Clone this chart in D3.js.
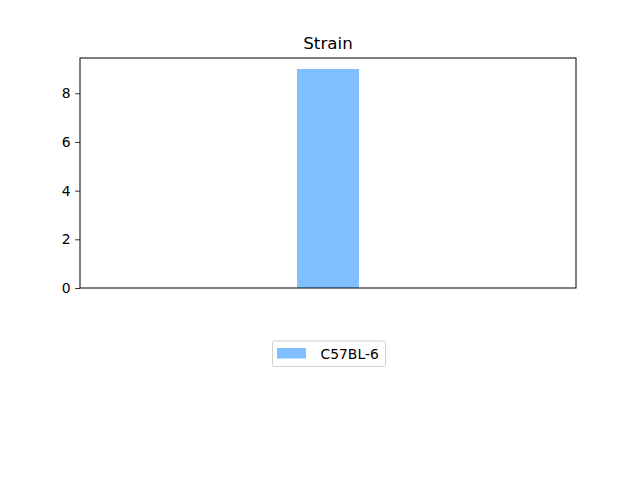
<!DOCTYPE html>
<html>
<head>
<meta charset="utf-8">
<script src="https://cdn.jsdelivr.net/npm/d3@7"></script>
<style>
  body { margin: 0; background: #fff; }
  text { font-family: "DejaVu Sans", sans-serif; }
</style>
</head>
<body>
<svg id="chart" width="640" height="480"></svg>
<script>
// --- Data ---
const categories = ["C57BL-6"];
const counts = [9];
const yTicks = [0, 2, 4, 6, 8];
const barColors = ["#80bfff"];
const chartTitle = "Strain";

// --- Layout ---
const width = 640,
  height = 480;
const margin = { left: 80, right: 64, top: 58, bottom: 192 };

const svg = d3.select("#chart");

const x = d3
  .scaleLinear()
  .domain([-1, 1])
  .range([margin.left, width - margin.right]);
const y = d3
  .scaleLinear()
  .domain([0, d3.max(counts) * 1.05])
  .range([height - margin.bottom, margin.top]);

const barWidth = 0.25;

// bars
svg
  .selectAll("rect.bar")
  .data(counts.map((v, i) => ({ v, i })))
  .enter()
  .append("rect")
  .attr("class", "bar")
  .attr("x", ({ i }) => x(i - barWidth / 2))
  .attr("width", x(barWidth) - x(0))
  .attr("y", ({ v }) => y(v))
  .attr("height", ({ v }) => y(0) - y(v))
  .attr("fill", ({ i }) => barColors[i]);

// y axis
const yAxis = svg
  .append("g")
  .attr("transform", `translate(${margin.left},0)`)
  .call(d3.axisLeft(y).tickValues(yTicks).tickSize(4.9).tickPadding(4.5));
yAxis.select(".domain").remove();
yAxis.selectAll("text").attr("font-size", "13.9px").attr("fill", "#000");
yAxis.selectAll("line").attr("stroke", "#000").attr("stroke-width", 0.8);

// frame
svg
  .append("rect")
  .attr("x", margin.left)
  .attr("y", margin.top)
  .attr("width", width - margin.left - margin.right)
  .attr("height", height - margin.top - margin.bottom)
  .attr("fill", "none")
  .attr("stroke", "#000")
  .attr("stroke-width", 1);

// title
svg
  .append("text")
  .attr("x", (margin.left + width - margin.right) / 2)
  .attr("y", margin.top - 9)
  .attr("text-anchor", "middle")
  .attr("font-size", "16.7px")
  .attr("fill", "#000")
  .text(chartTitle);

// legend
const legend = svg.append("g").attr("transform", "translate(272.5,341)");
legend
  .append("rect")
  .attr("width", 113)
  .attr("height", 25.5)
  .attr("rx", 2)
  .attr("fill", "#fff")
  .attr("stroke", "#d0d0d0")
  .attr("stroke-width", 1);
categories.forEach((c, i) => {
  legend
    .append("rect")
    .attr("x", 4.5)
    .attr("y", 7)
    .attr("width", 29)
    .attr("height", 10.5)
    .attr("fill", barColors[i]);
  legend
    .append("text")
    .attr("x", 48)
    .attr("y", 17.5)
    .attr("font-size", "13.9px")
    .attr("fill", "#000")
    .text(c);
});
</script>
</body>
</html>
